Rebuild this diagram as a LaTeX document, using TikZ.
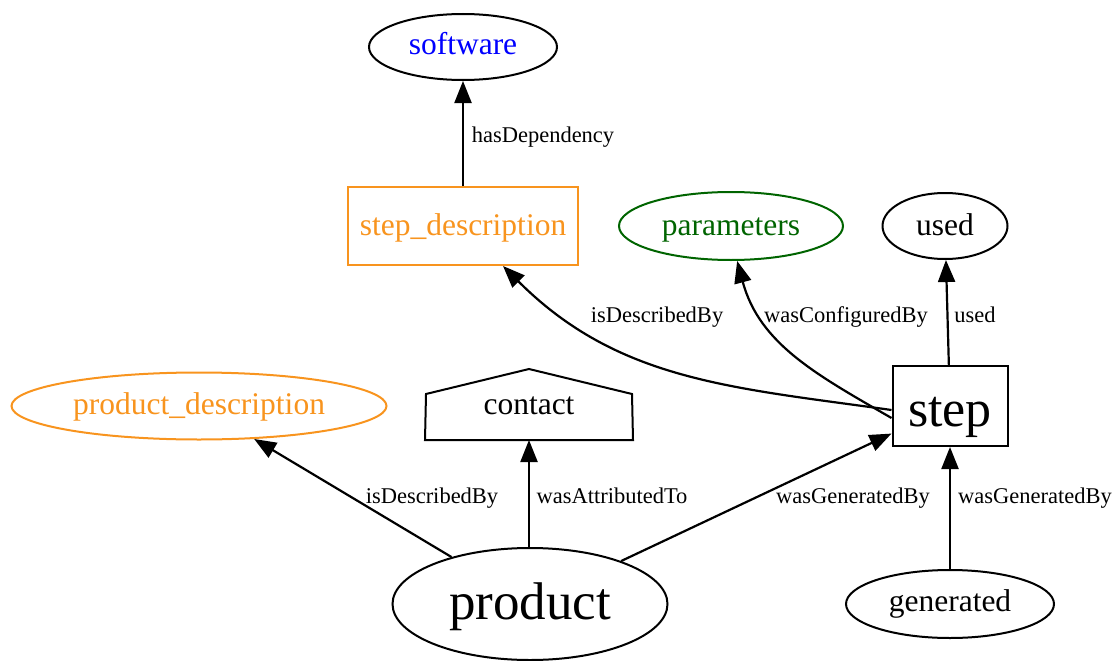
\documentclass[tikz,border=0pt]{standalone}
\usepackage{fontspec}
\setmainfont{Liberation Serif}
\usetikzlibrary{shapes.geometric,arrows.meta}
\definecolor{gvorange}{RGB}{248,148,30}
\definecolor{gvgreen}{RGB}{0,100,0}
\definecolor{gvblue}{RGB}{0,0,255}
\tikzset{
  base/.style={inner sep=0pt, line width=2pt},
  ell/.style={base, ellipse, draw},
  box/.style={base, rectangle, draw},
  txt/.style={inner sep=0pt, anchor=base, font=\fontsize{31.5}{36}\selectfont},
  bigtxt/.style={inner sep=0pt, anchor=base, font=\fontsize{52}{60}\selectfont},
  lbl/.style={inner sep=0pt, anchor=base, font=\fontsize{22.5}{26}\selectfont},
  edge/.style={line width=2.2pt, -{Triangle[length=22pt,width=17pt]}},
}
\begin{document}
\begin{tikzpicture}[x=1pt,y=-1pt]
\useasboundingbox (0,0) rectangle (1116,661);
% shapes
\node[ell, minimum width=188, minimum height=66] (software) at (463,47) {};
\node[box, draw=gvorange, minimum width=230, minimum height=78] (stepdesc) at (463,226) {};
\node[ell, draw=gvgreen, minimum width=224, minimum height=68] (parameters) at (731,226) {};
\node[ell, minimum width=125, minimum height=66] (used) at (945,226) {};
\node[ell, draw=gvorange, minimum width=375, minimum height=67] (proddesc) at (199,406) {};
\node[base, minimum width=206, minimum height=70] (contact) at (529,404) {};
\draw[line width=2pt] (contact.south west) -- (426,394) -- (529,369) -- (632,394) -- (contact.south east) -- cycle;
\node[box, minimum width=115, minimum height=80] (step) at (950,406) {};
\node[ell, minimum width=275, minimum height=112] (product) at (530,604) {};
\node[ell, minimum width=208, minimum height=68] (generated) at (950,604) {};
% texts
\node[txt, text=gvblue] (t-software) at (463,55) {software};
\node[txt, text=gvorange] (t-stepdesc) at (463,235) {step\_description};
\node[txt, text=gvgreen] (t-parameters) at (731,235) {parameters};
\node[txt] (t-used) at (945,235) {used};
\node[txt, text=gvorange] (t-proddesc) at (199,414) {product\_description};
\node[txt] (t-contact) at (529,414) {contact};
\node[bigtxt] (t-step) at (950,426) {step};
\node[bigtxt, font=\fontsize{53}{60}\selectfont] (t-product) at (530,619) {product};
\node[txt] (t-generated) at (950,611) {generated};
% edges
\draw[edge] (stepdesc) -- (software);
\draw[edge] ([yshift=-4pt]step.west) to[out=172, in=-45] ([xshift=40pt]stepdesc.south);
\draw[edge] ([yshift=-12pt]step.west) to[out=150, in=-75] (parameters.-80);
\draw[edge] (step) -- (used);
\draw[edge] (product) -- (proddesc);
\draw[edge] (product.north -| contact.south) -- (contact.south);
\draw[edge] (product) -- (step);
\draw[edge] (generated) -- (step);
% labels
\node[lbl] (l1) at (543,142) {hasDependency};
\node[lbl] (l2) at (657,322) {isDescribedBy};
\node[lbl] (l3) at (846,322) {wasConfiguredBy};
\node[lbl] (l4) at (975,322) {used};
\node[lbl] (l5) at (432,503) {isDescribedBy};
\node[lbl] (l6) at (612,503) {wasAttributedTo};
\node[lbl] (l7) at (853,503) {wasGeneratedBy};
\node[lbl] (l8) at (1035,503) {wasGeneratedBy};
\end{tikzpicture}
\end{document}
